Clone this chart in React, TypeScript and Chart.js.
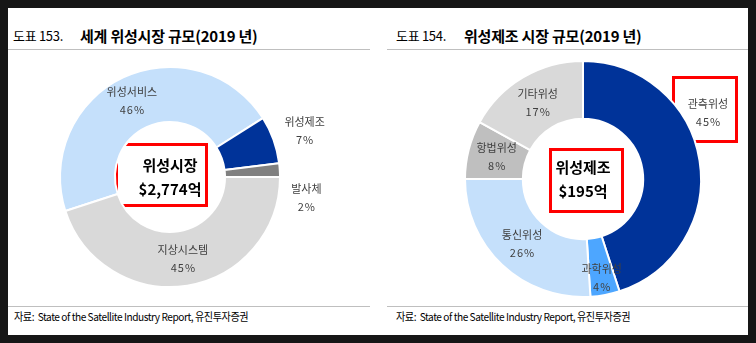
import { useEffect, useRef } from 'react';
import { Chart, registerables } from 'chart.js';

Chart.register(...registerables);

// ---- data ----
const marketCategories = ['위성서비스', '위성제조', '발사체', '지상시스템'];
const marketShares = [46, 7, 2, 45];
const marketCenterTitle = '위성시장';
const marketCenterValue = '$2,774억';

const mfgCategories = ['관측위성', '과학위성', '통신위성', '항법위성', '기타위성'];
const mfgShares = [45, 4, 26, 8, 17];
const mfgCenterTitle = '위성제조';
const mfgCenterValue = '$195억';

// ---- styles ----
const DARK_BLUE = '#003399';
const BRIGHT_BLUE = '#4DA6FF';
const LIGHT_BLUE = '#C5E0FB';
const LIGHT_GRAY = '#D9D9D9';
const MID_GRAY = '#BFBFBF';
const DARK_GRAY = '#808080';
const FONT = '"Noto Sans CJK KR", "Noto Sans", sans-serif';

const sliceLabelPlugin = {
  id: 'sliceLabels',
  afterDatasetsDraw(chart: any, _args: any, opts: any) {
    const ctx = chart.ctx as CanvasRenderingContext2D;
    const meta = chart.getDatasetMeta(0);
    const labels = chart.data.labels as string[];
    const values = chart.data.datasets[0].data as number[];
    ctx.save();
    ctx.textAlign = 'center';
    ctx.textBaseline = 'middle';
    meta.data.forEach((arc: any, i: number) => {
      const p = arc.tooltipPosition(false);
      const off = (opts.offsets && opts.offsets[i]) || [0, 0];
      const x = p.x + off[0];
      const y = p.y + off[1];
      ctx.fillStyle = '#404040';
      ctx.font = `11px ${FONT}`;
      (ctx as any).letterSpacing = '0px';
      ctx.fillText(labels[i], x, y - 9);
      (ctx as any).letterSpacing = '1px';
      ctx.fillText(values[i] + '%', x + 0.5, y + 9);
    });
    (ctx as any).letterSpacing = '0px';
    const c = meta.data[0];
    ctx.fillStyle = '#000000';
    ctx.font = `bold 15px ${FONT}`;
    ctx.fillText(opts.centerTitle, c.x, c.y - 12);
    ctx.fillText(opts.centerValue, c.x, c.y + 12);
    ctx.restore();
  },
};

function Doughnut(props: {
  labels: string[];
  values: number[];
  colors: string[];
  rotation: number;
  radius: number;
  cutout: string;
  padding: { left: number; right: number; top: number; bottom: number };
  offsets: number[][];
  centerTitle: string;
  centerValue: string;
  style: React.CSSProperties;
}) {
  const ref = useRef<HTMLCanvasElement>(null);
  useEffect(() => {
    if (!ref.current) return;
    const chart = new Chart(ref.current, {
      type: 'doughnut',
      data: {
        labels: props.labels,
        datasets: [
          {
            data: props.values,
            backgroundColor: props.colors,
            borderColor: '#ffffff',
            borderWidth: 2,
          },
        ],
      },
      options: {
        responsive: false,
        animation: false,
        events: [],
        rotation: props.rotation,
        radius: props.radius,
        cutout: props.cutout,
        layout: { padding: props.padding },
        plugins: {
          legend: { display: false },
          tooltip: { enabled: false },
          sliceLabels: {
            offsets: props.offsets,
            centerTitle: props.centerTitle,
            centerValue: props.centerValue,
          },
        } as any,
      },
      plugins: [sliceLabelPlugin],
    });
    return () => chart.destroy();
  }, []);
  return <canvas ref={ref} width={370} height={327} style={{ position: 'absolute', width: 370, height: 327, ...props.style }} />;
}

const titleNum: React.CSSProperties = {
  position: 'absolute',
  top: 18,
  fontFamily: FONT,
  fontSize: 13,
  lineHeight: '20px',
  letterSpacing: '-0.3px',
  color: '#000',
  whiteSpace: 'nowrap',
};
const titleMain: React.CSSProperties = {
  ...titleNum,
  fontSize: 15,
  letterSpacing: '-0.2px',
  fontWeight: 'bold',
};
const rule = (left: number, top: number, width: number): React.CSSProperties => ({
  position: 'absolute',
  left,
  top,
  width,
  height: 1,
  background: '#BFBFBF',
});
const sourceStyle: React.CSSProperties = {
  position: 'absolute',
  top: 301,
  fontFamily: FONT,
  fontSize: 11,
  lineHeight: '14px',
  letterSpacing: '-0.5px',
  color: '#000',
  whiteSpace: 'nowrap',
  transform: 'scaleX(0.92)',
  transformOrigin: 'left center',
};
const redBox = (left: number, top: number, width: number, height: number): React.CSSProperties => ({
  position: 'absolute',
  left,
  top,
  width,
  height,
  border: '3px solid #FF0000',
  boxSizing: 'border-box',
});

export default function App() {
  useEffect(() => {
    document.body.style.background = '#161616';
  }, []);
  return (
    <div style={{ position: 'relative', width: 740, height: 327, background: '#ffffff', overflow: 'hidden' }}>
      <span style={{ ...titleNum, left: 5 }}>도표 153.</span>
      <span style={{ ...titleMain, left: 72 }}>세계 위성시장 규모(2019 년)</span>
      <span style={{ ...titleNum, left: 388 }}>도표 154.</span>
      <span style={{ ...titleMain, left: 456 }}>위성제조 시장 규모(2019 년)</span>
      <div style={rule(0, 41, 362)} />
      <div style={rule(379, 41, 361)} />
      <div style={rule(0, 298, 362)} />
      <div style={rule(379, 298, 361)} />
      <span style={{ ...sourceStyle, left: 6 }}>자료:&nbsp; State of the Satellite Industry Report, 유진투자증권</span>
      <span style={{ ...sourceStyle, left: 388 }}>자료:&nbsp; State of the Satellite Industry Report, 유진투자증권</span>

      <div style={redBox(107, 135, 93, 64)} />
      <div style={redBox(541, 140, 75, 65)} />
      <div style={redBox(664, 68, 66, 67)} />

      <Doughnut
        labels={marketCategories}
        values={marketShares}
        colors={[LIGHT_BLUE, DARK_BLUE, DARK_GRAY, LIGHT_GRAY]}
        rotation={-108}
        radius={110}
        cutout="50%"
        padding={{ left: 0, right: 46, top: 11, bottom: 0 }}
        offsets={[[-3, -2], [57, -18], [54, 26], [0, 0]]}
        centerTitle={marketCenterTitle}
        centerValue={marketCenterValue}
        style={{ left: 0, top: 0 }}
      />
      <Doughnut
        labels={mfgCategories}
        values={mfgShares}
        colors={[DARK_BLUE, BRIGHT_BLUE, LIGHT_BLUE, MID_GRAY, LIGHT_GRAY]}
        rotation={0}
        radius={118}
        cutout="51%"
        padding={{ left: 40, right: 0, top: 15, bottom: 0 }}
        offsets={[[37, -52], [2, 11], [0, 0], [0, 0], [0, 0]]}
        centerTitle={mfgCenterTitle}
        centerValue={mfgCenterValue}
        style={{ left: 370, top: 0 }}
      />
    </div>
  );
}
